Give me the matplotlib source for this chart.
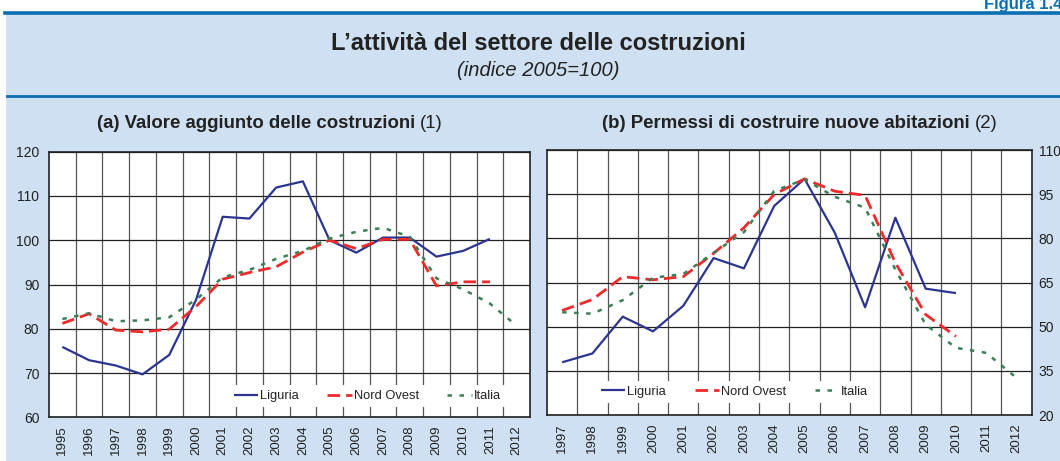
import matplotlib
matplotlib.use("Agg")
import matplotlib.pyplot as plt
import numpy as np
from matplotlib.patches import Rectangle
from matplotlib.lines import Line2D

plt.rcParams['font.family'] = ['Liberation Sans', 'DejaVu Sans']

# ---------------- data ----------------
years_a = ['1995', '1996', '1997', '1998', '1999', '2000', '2001', '2002', '2003',
           '2004', '2005', '2006', '2007', '2008', '2009', '2010', '2011', '2012']
liguria_a = [75.9, 72.9, 71.7, 69.7, 74.1, 86.5, 105.3, 104.9, 111.9,
             113.3, 100.0, 97.2, 100.6, 100.6, 96.3, 97.6, 100.3, None]
nordovest_a = [81.2, 83.4, 79.7, 79.3, 79.9, 85.0, 91.2, 92.7, 94.0,
               97.3, 100.0, 98.1, 100.2, 100.2, 89.7, 90.6, 90.6, None]
italia_a = [82.2, 83.5, 81.7, 81.9, 82.6, 86.6, 91.6, 93.3, 95.8,
            97.6, 100.4, 101.9, 102.8, 100.8, 91.4, 88.9, 85.7, 80.7]
yticks_a = [60, 70, 80, 90, 100, 110, 120]

years_b = ['1997', '1998', '1999', '2000', '2001', '2002', '2003', '2004',
           '2005', '2006', '2007', '2008', '2009', '2010', '2011', '2012']
liguria_b = [37.9, 40.9, 53.4, 48.4, 57.1, 73.3, 69.8, 91.0,
             100.2, 81.9, 56.6, 87.0, 62.9, 61.4, None, None]
nordovest_b = [55.5, 59.2, 67.0, 65.9, 67.0, 74.9, 83.6, 94.9,
               100.2, 96.0, 94.6, 71.7, 54.1, 46.7, None, None]
italia_b = [54.9, 54.4, 59.0, 66.6, 67.9, 75.1, 82.1, 96.1,
            100.0, 94.1, 90.4, 69.4, 50.7, 42.8, 41.1, 32.6]
yticks_b = [20, 35, 50, 65, 80, 95, 110]

series_names = ['Liguria', 'Nord Ovest', 'Italia']
title_main = "L\u2019attività del settore delle costruzioni"
subtitle = "(indice 2005=100)"

# ---------------- style ----------------
W, H = 1060, 461
BG = '#CEE0F1'
BLUE = '#0A6FB2'
C_LIG = '#2B3590'
C_NO = '#EE2A2A'
C_IT = '#3C7F57'
TXT = '#222222'
styles = [dict(color=C_LIG, lw=1.6, ls='-'),
          dict(color=C_NO, lw=2.0, ls=(0, (4.5, 2.2))),
          dict(color=C_IT, lw=1.8, ls=(0, (1.8, 3.0)))]

fig = plt.figure(figsize=(W / 100, H / 100), dpi=100, facecolor='white')


def fx(px):
    return px / W


def fy(py):
    return 1 - py / H


# background panel
fig.patches.append(Rectangle((fx(6), 0), 1 - fx(6), fy(13), transform=fig.transFigure,
                             facecolor=BG, edgecolor='none', zorder=-5))
fig.lines.append(Line2D([fx(5), 1], [fy(13.5), fy(13.5)], transform=fig.transFigure,
                        color=BLUE, lw=2.6, zorder=1))
fig.lines.append(Line2D([fx(7), 1], [fy(96), fy(96)], transform=fig.transFigure,
                        color=BLUE, lw=2.0, zorder=1))

fig.text(fx(1062), fy(9), 'Figura 1.4', ha='right', va='baseline', color=BLUE,
         fontsize=12, fontweight='bold')
fig.text(fx(538), fy(44), title_main, ha='center', va='center', fontsize=17,
         fontweight='bold', color=TXT)
fig.text(fx(538), fy(70), subtitle, ha='center', va='center', fontsize=14.5,
         fontstyle='italic', color=TXT)


def panel_title(xc, yc, bold, normal):
    t1 = fig.text(fx(xc), fy(yc), bold + ' ', ha='right', va='center', fontsize=13.4,
                  fontweight='bold', color=TXT)
    t2 = fig.text(fx(xc), fy(yc), normal, ha='left', va='center', fontsize=13.4,
                  color=TXT)
    fig.canvas.draw()
    r = fig.canvas.get_renderer()
    w1 = t1.get_window_extent(r).width
    w2 = t2.get_window_extent(r).width
    shift = (w1 - w2) / 2
    t1.set_x(fx(xc + shift))
    t2.set_x(fx(xc + shift))


panel_title(270, 124, '(a) Valore aggiunto delle costruzioni', '(1)')
panel_title(800, 124, '(b) Permessi di costruire nuove abitazioni', '(2)')


def make_panel(rect, years, data, yticks, right_ticks, leg_bbox):
    ax = fig.add_axes(rect)
    ax.set_facecolor('white')
    n = len(years)
    x = np.arange(n)
    for vals, st, name in zip(data, styles, series_names):
        y = np.array([np.nan if v is None else v for v in vals], dtype=float)
        ax.plot(x, y, label=name, solid_capstyle='butt', dash_capstyle='butt', **st)
    ax.set_xlim(-0.5, n - 0.5)
    ax.set_ylim(yticks[0], yticks[-1])
    ax.set_yticks(yticks)
    ax.set_xticks(x)
    ax.set_xticklabels(years, rotation=90, fontsize=9.5, color=TXT)
    ax.set_xticks(np.arange(0.5, n - 1, 1), minor=True)
    ax.tick_params(axis='both', which='both', length=0)
    ax.tick_params(axis='x', pad=6)
    ax.tick_params(axis='y', labelsize=10, labelcolor=TXT, pad=7 if not right_ticks else 5)
    if right_ticks:
        ax.yaxis.tick_right()
    ax.set_axisbelow(True)
    ax.grid(axis='y', which='major', color=TXT, lw=0.9)
    ax.grid(axis='x', which='minor', color='#555555', lw=0.9)
    for s in ax.spines.values():
        s.set_color(TXT)
        s.set_linewidth(1.2)
    leg = ax.legend(loc='center', bbox_to_anchor=leg_bbox, ncol=3, fontsize=9.3,
                    frameon=True, fancybox=False, edgecolor='none', facecolor='white',
                    framealpha=1, handlelength=1.9, handletextpad=0.15,
                    columnspacing=2.2, borderpad=0.4, borderaxespad=0)
    for t in leg.get_texts():
        t.set_color(TXT)
    return ax


make_panel([fx(49), fy(417.3), fx(530) - fx(49), fy(151.7) - fy(417.3)],
           years_a, [liguria_a, nordovest_a, italia_a], yticks_a, False, (0.662, 0.08))
make_panel([fx(547), fy(415), fx(1031.7) - fx(547), fy(150) - fy(415)],
           years_b, [liguria_b, nordovest_b, italia_b], yticks_b, True, (0.387, 0.087))

fig.savefig('out.png', dpi=100, facecolor='white')
